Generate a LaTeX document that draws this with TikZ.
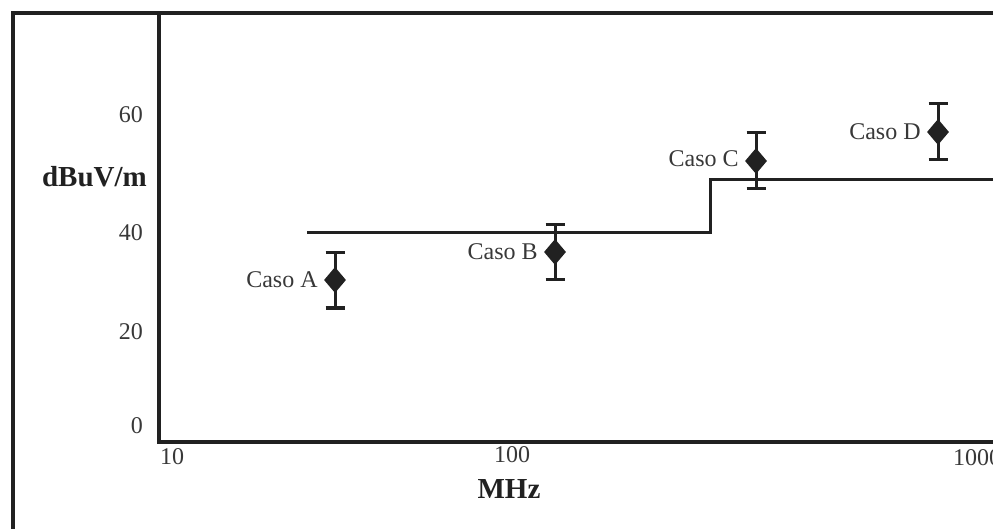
\documentclass[tikz,border=0pt]{standalone}
\usepackage{fontspec}
\setmainfont{Liberation Serif}
\usetikzlibrary{shapes.geometric,positioning}

\definecolor{ink}{gray}{0.13}
\definecolor{txt}{gray}{0.22}

\tikzset{
    frameline/.style={line width=3.2pt, draw=ink},
    limitline/.style={line width=3pt, draw=ink},
    errline/.style={line width=3pt, draw=ink},
    ticklabel/.style={text=txt, font=\fontsize{24}{26}\selectfont, inner sep=0pt},
    axislabel/.style={text=ink, font=\fontsize{29}{31}\selectfont\bfseries, inner sep=0pt},
    point/.style={diamond, fill=ink, minimum width=22pt, minimum height=26pt, inner sep=0pt},
    caselabel/.style={text=txt, font=\fontsize{24}{26}\selectfont, inner sep=2pt}
}

\begin{document}
\begin{tikzpicture}[x=1pt, y=-1pt]
    \useasboundingbox (0,0) rectangle (993,529);

    % half width of the error bar caps
    \def\cap{9.5}

    % Outer frame and plot axes
    \coordinate (F0) at (13,529);
    \coordinate (F1) at (13,13);
    \coordinate (F2) at (993,13);
    \coordinate (O) at (159,442);
    \coordinate (Ytop) at (159,13);
    \coordinate (Xend) at (993,442);
    \draw[frameline] (F0) -- (F1) -- (F2);
    \draw[frameline] (Ytop) -- (O) -- (Xend);

    % Tick labels on the y axis
    \node[ticklabel, anchor=east] (y60) at (143,115) {60};
    \node[ticklabel, anchor=east] (y40) at (143,233) {40};
    \node[ticklabel, anchor=east] (y20) at (143,332) {20};
    \node[ticklabel, anchor=east] (y0)  at (143,426) {0};
    \node[axislabel, anchor=east] (ylab) at (147,177) {dBuV/m};

    % Tick labels on the x axis
    \node[ticklabel] (x10)   at (172,457) {10};
    \node[ticklabel] (x100)  at (512,455) {100};
    \node[ticklabel] (x1000) at (977,458) {1000};
    \node[axislabel] (xlab)  at (509,489) {MHz};

    % Limit line
    \coordinate (L0) at (307,233);
    \coordinate (L1) at (710,233);
    \coordinate (L2) at (710,180);
    \coordinate (L3) at (993,180);
    \draw[limitline] (L0) -- (L1) -- (L2) -- (L3);

    % Measured cases with their error bars
    \coordinate (Atop) at (335,253); \coordinate (Abot) at (335,308);
    \coordinate (Btop) at (555,225); \coordinate (Bbot) at (555,280);
    \coordinate (Ctop) at (756,133); \coordinate (Cbot) at (756,189);
    \coordinate (Dtop) at (938,104); \coordinate (Dbot) at (938,160);

    \draw[errline] (Atop) -- (Abot) (Atop) ++(-\cap,0) -- ++(2*\cap,0) (Abot) ++(-\cap,0) -- ++(2*\cap,0);
    \draw[errline] (Btop) -- (Bbot) (Btop) ++(-\cap,0) -- ++(2*\cap,0) (Bbot) ++(-\cap,0) -- ++(2*\cap,0);
    \draw[errline] (Ctop) -- (Cbot) (Ctop) ++(-\cap,0) -- ++(2*\cap,0) (Cbot) ++(-\cap,0) -- ++(2*\cap,0);
    \draw[errline] (Dtop) -- (Dbot) (Dtop) ++(-\cap,0) -- ++(2*\cap,0) (Dbot) ++(-\cap,0) -- ++(2*\cap,0);

    \node[point] (A) at (335,280) {};
    \node[point] (B) at (555,252) {};
    \node[point] (C) at (756,161) {};
    \node[point] (D) at (938,132) {};

    \node[caselabel, left=4pt of A] (labA) {Caso A};
    \node[caselabel, left=4pt of B] (labB) {Caso B};
    \node[caselabel, left=4pt of C, yshift=2pt] (labC) {Caso C};
    \node[caselabel, left=4pt of D] (labD) {Caso D};
\end{tikzpicture}
\end{document}
